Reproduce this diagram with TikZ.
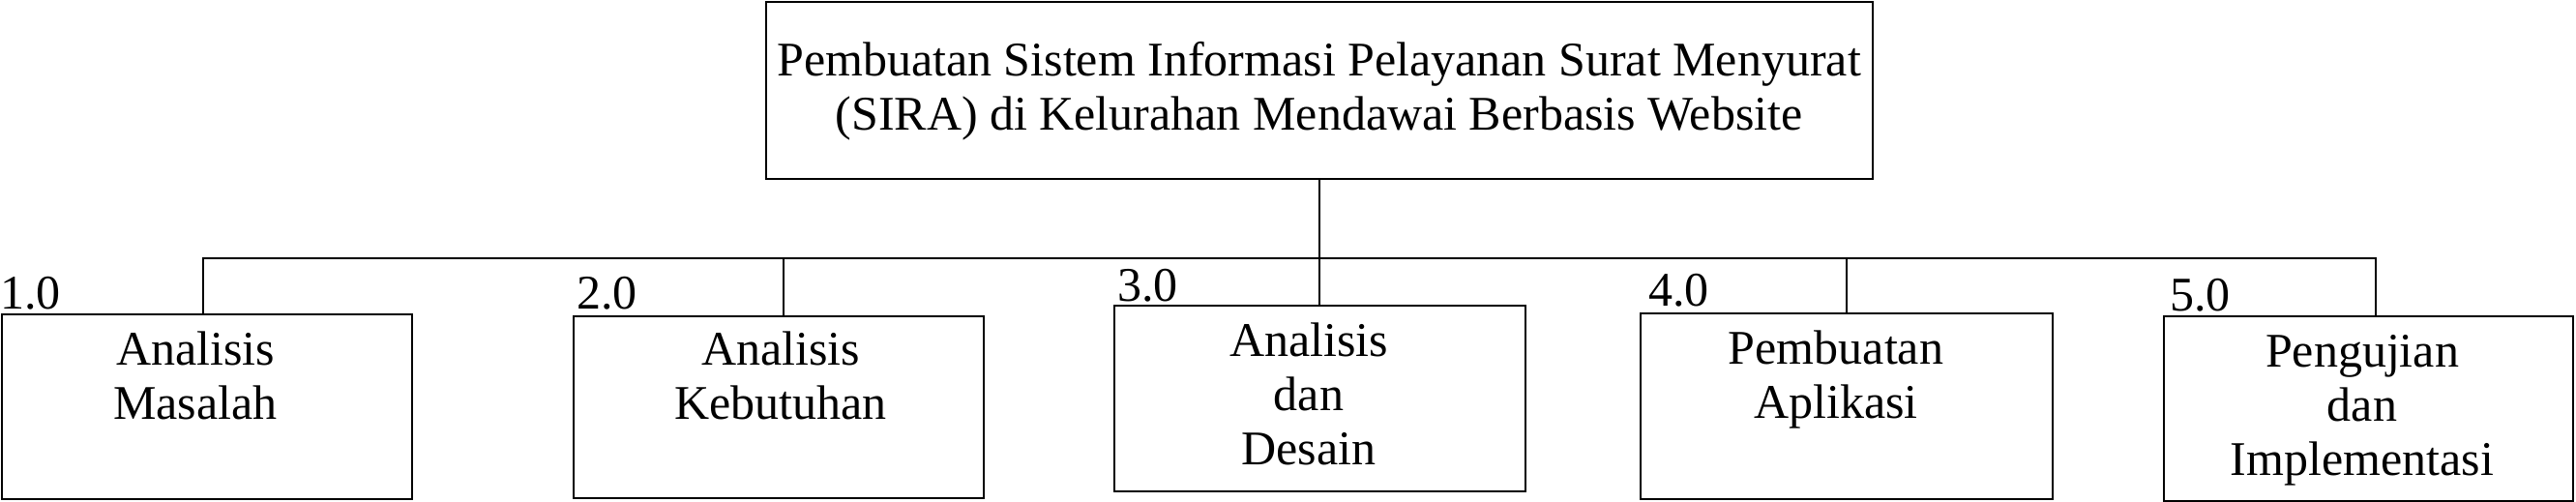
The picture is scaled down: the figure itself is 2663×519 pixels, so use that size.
\documentclass[tikz,border=0pt]{standalone}
\usepackage{fontspec}
\setmainfont{Liberation Serif}
\newcommand{\stack}[1]{\begin{tabular}[t]{@{}c@{}}#1\end{tabular}}
\begin{document}
\begin{tikzpicture}[x=1pt,y=-1pt,
  box/.style={draw, line width=2.4pt, rectangle, inner sep=0pt},
  wire/.style={line width=2pt, line join=miter},
  txt/.style={anchor=base, inner sep=0pt, font=\fontsize{50}{56}\selectfont},
  num/.style={anchor=base west, inner sep=0pt, font=\fontsize{50}{56}\selectfont}]
\useasboundingbox (0,0) rectangle (2663,519);
% boxes
\node[box, minimum width=1144pt, minimum height=183pt] (top) at (1364,93.5) {};
\node[box, minimum width=424pt, minimum height=191pt] (b1) at (214,420.5) {};
\node[box, minimum width=424pt, minimum height=188pt] (b2) at (805,421) {};
\node[box, minimum width=425pt, minimum height=192pt] (b3) at (1364.5,412) {};
\node[box, minimum width=426pt, minimum height=192pt] (b4) at (1909,420) {};
\node[box, minimum width=423pt, minimum height=191pt] (b5) at (2448.5,422.5) {};
% texts
\node[txt] (ttop) at (1363.5,78) {\stack{Pembuatan Sistem Informasi Pelayanan Surat Menyurat\\(SIRA) di Kelurahan Mendawai Berbasis Website}};
\node[txt] (t1) at (202,377) {\stack{Analisis\\Masalah}};
\node[txt] (t2) at (807,377) {\stack{Analisis\\Kebutuhan}};
\node[txt] (t3) at (1353,368) {\stack{Analisis\\dan\\Desain}};
\node[txt] (t4) at (1898,376) {\stack{Pembuatan\\Aplikasi}};
\node[txt] (t5) at (2442,379) {\stack{Pengujian\\dan\\Implementasi}};
% numbers
\node[num] (n1) at (0,319) {1.0};
\node[num] (n2) at (596,319) {2.0};
\node[num] (n3) at (1155,311) {3.0};
\node[num] (n4) at (1704,316) {4.0};
\node[num] (n5) at (2243,321) {5.0};
% connectors
\coordinate (c1) at (210,267);
\coordinate (c2) at (810,267);
\coordinate (c3) at (1364,267);
\coordinate (c4) at (1909,267);
\coordinate (c5) at (2456,267);
\draw[wire] (top.south -| c3) -- (c3 |- b3.north);
\draw[wire] (c1 |- b1.north) -- (c1) -- (c5) -- (c5 |- b5.north);
\draw[wire] (c2) -- (c2 |- b2.north);
\draw[wire] (c4) -- (c4 |- b4.north);
\end{tikzpicture}
\end{document}
